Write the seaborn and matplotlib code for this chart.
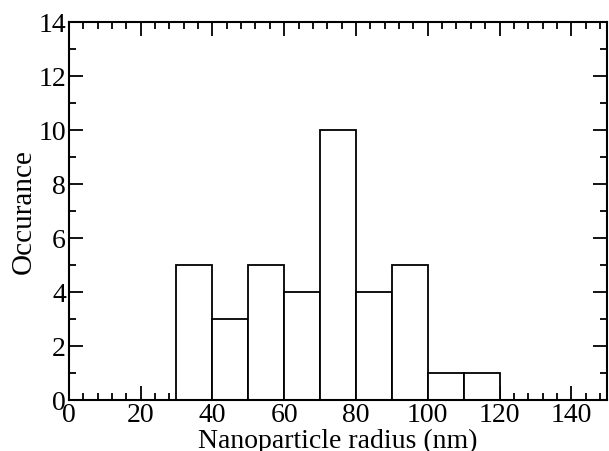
import matplotlib
matplotlib.use("Agg")
import matplotlib.pyplot as plt
import seaborn as sns
import pandas as pd
import numpy as np
from matplotlib.ticker import MultipleLocator

bin_centers = [35, 45, 55, 65, 75, 85, 95, 105, 115]
counts = [5, 3, 5, 4, 10, 4, 5, 1, 1]
bin_edges = [30, 40, 50, 60, 70, 80, 90, 100, 110, 120]

df = pd.DataFrame({"radius": bin_centers, "count": counts})

sns.set_style("ticks")
plt.rcParams['font.family'] = ['Liberation Serif', 'DejaVu Serif']
plt.rcParams['text.color'] = 'black'
plt.rcParams['axes.labelcolor'] = 'black'
plt.rcParams['xtick.color'] = 'black'
plt.rcParams['ytick.color'] = 'black'
plt.rcParams['axes.edgecolor'] = 'black'

fig = plt.figure(figsize=(6.09, 4.51), dpi=100)
ax = fig.add_axes([0.113, 0.113, 0.884, 0.838])

sns.histplot(data=df, x="radius", weights="count", bins=bin_edges, ax=ax,
             color="white", edgecolor="black", linewidth=1.3, alpha=1)

ax.set_xlim(0, 150)
ax.set_ylim(0, 14)
ax.xaxis.set_major_locator(MultipleLocator(20))
ax.xaxis.set_minor_locator(MultipleLocator(4))
ax.yaxis.set_major_locator(MultipleLocator(2))
ax.yaxis.set_minor_locator(MultipleLocator(1))
ax.tick_params(which='both', direction='in', top=True, right=True, width=1.3,
               labelsize=20, pad=2, colors='black')
ax.tick_params(which='major', length=10)
ax.tick_params(which='minor', length=5)
for s in ax.spines.values():
    s.set_linewidth(1.5)
    s.set_color('black')
    s.set_visible(True)
ax.set_xlabel("Nanoparticle radius (nm)", fontsize=20, labelpad=1, color='black')
ax.set_ylabel("Occurance", fontsize=21, labelpad=1, color='black')

fig.savefig("out.png", dpi=100)
